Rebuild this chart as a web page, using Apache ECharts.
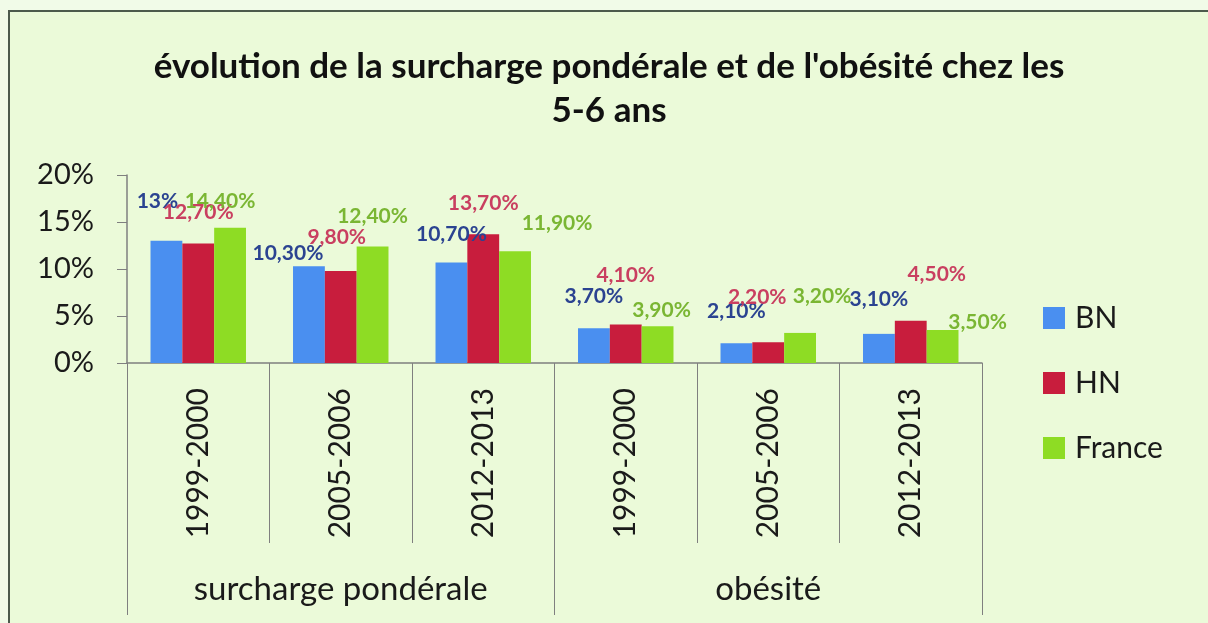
<!DOCTYPE html>
<html>
<head>
<meta charset="utf-8">
<script src="https://cdn.jsdelivr.net/npm/echarts@6/dist/echarts.min.js"></script>
<style>
	html, body { margin: 0; padding: 0; background: #f1fbe8; }
	.box {
		position: absolute;
		left: 8px;
		top: 10px;
		width: 1200px;
		height: 613px;
		border-left: 2px solid #4c5a4c;
		border-top: 2px solid #4c5a4c;
		background: #ebfad9;
	}
	#chart { width: 1198px; height: 611px; }
</style>
</head>
<body>
<div class="box"><div id="chart"></div></div>
<script>
/**
 * surcharge pondérale / obésité 5-6 ans
 * */

// catégories
var periods = ['1999-2000', '2005-2006', '2012-2013', '1999-2000', '2005-2006', '2012-2013'];
var groups = ['surcharge pondérale', 'obésité'];
var seriesNames = ['BN', 'HN', 'France'];

// valeurs en %
var bn = [13, 10.3, 10.7, 3.7, 2.1, 3.1];
var hn = [12.7, 9.8, 13.7, 4.1, 2.2, 4.5];
var france = [14.4, 12.4, 11.9, 3.9, 3.2, 3.5];

var yTicks = { min: 0, max: 20, interval: 5 };

var colors = ['#4a8ff0', '#c81d3d', '#8edc24'];
var labelColors = ['#2b4391', '#c93f60', '#7ab633'];

//étiquettes déplacées à la main (comme dans le classeur), [dx, dy] en px
var labelShift = [
	[[-9, -26], [-21, 1], [0, -15], [0, -18], [0, -19], [0, -21]],
	[[0, -18], [-4, -20], [0, -17], [0, -36], [-11, -32], [26, -33]],
	[[-10, -13], [0, -17], [42, -14], [4, -3], [22, -23], [35, 6]]
];

var font = 'Lato, "Open Sans", sans-serif';

//格式 13 -> 13%, 12.7 -> 12,70%
function pct(v) {
	if (Number.isInteger(v)) return v + '%';
	return v.toFixed(2).replace('.', ',') + '%';
}

var values = [bn, hn, france];

var option = {
	backgroundColor: '#ebfad9',
	textStyle: { fontFamily: font },
	title: {
		text: "évolution de la surcharge pondérale et de l'obésité chez les\n5-6 ans",
		left: 'center',
		top: 28,
		textStyle: {
			fontFamily: font,
			fontSize: 35,
			fontWeight: 'bold',
			color: '#111111',
			lineHeight: 44
		}
	},
	legend: {
		orient: 'vertical',
		left: 1028,
		top: 286,
		itemWidth: 22,
		itemHeight: 22,
		itemGap: 35,
		icon: 'rect',
		textStyle: { fontFamily: font, fontSize: 30, color: '#1a1a1a', padding: [0, 0, 0, 5] },
		data: seriesNames
	},
	grid: {
		left: 117,
		right: 226,
		top: 163,
		bottom: 260
	},
	xAxis: [{
		type: 'category',
		data: periods,
		axisLine: { lineStyle: { color: '#7f7f7f', width: 1.5 } },
		axisTick: { show: true, interval: 0, length: 180, lineStyle: { color: '#7f7f7f' } },
		axisLabel: {
			interval: 0,
			rotate: 90,
			margin: 25,
			fontFamily: font,
			fontSize: 30,
			color: '#1a1a1a'
		}
	}, {
		type: 'category',
		position: 'bottom',
		data: groups,
		axisLine: { show: false },
		axisTick: { show: true, interval: 0, length: 252, lineStyle: { color: '#7f7f7f' } },
		axisLabel: {
			interval: 0,
			margin: 210,
			fontFamily: font,
			fontSize: 33,
			color: '#1a1a1a'
		}
	}],
	yAxis: {
		type: 'value',
		min: yTicks.min,
		max: yTicks.max,
		interval: yTicks.interval,
		axisLine: { show: true, lineStyle: { color: '#7f7f7f', width: 1.5 } },
		axisTick: { show: true, length: 10, lineStyle: { color: '#7f7f7f' } },
		splitLine: { show: false },
		axisLabel: {
			margin: 33,
			fontFamily: font,
			fontSize: 29,
			color: '#1a1a1a',
			formatter: '{value}%'
		}
	},
	series: seriesNames.map(function (name, i) {
		return {
			name: name,
			type: 'bar',
			xAxisIndex: 0,
			barGap: '0%',
			barCategoryGap: '33%',
			itemStyle: { color: colors[i] },
			label: {
				show: true,
				position: 'top',
				distance: 3,
				fontFamily: font,
				fontSize: 21,
				fontWeight: 'bold',
				color: labelColors[i],
				formatter: function (p) { return pct(p.value); }
			},
			data: values[i].map(function (v, j) {
				return { value: v, label: { offset: labelShift[i][j] } };
			})
		};
	})
};

var myChart = echarts.init(document.getElementById('chart'));
myChart.setOption(option);
</script>
</body>
</html>
